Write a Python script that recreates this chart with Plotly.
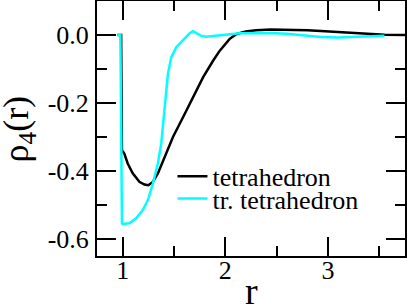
import plotly.graph_objects as go

# tetrahedron curve
r_tet = [0.95, 0.985, 0.993, 1.016, 1.049, 1.098, 1.163, 1.212, 1.25, 1.294, 1.343, 1.408,
         1.49, 1.588, 1.686, 1.784, 1.882, 1.946, 2.04, 2.11, 2.2, 2.3, 2.44, 2.6, 2.8,
         2.93, 3.1, 3.25, 3.4, 3.55, 3.75]
rho_tet = [0.0, 0.0, -0.339, -0.349, -0.378, -0.407, -0.432, -0.440, -0.442, -0.432, -0.407,
           -0.359, -0.300, -0.242, -0.183, -0.124, -0.075, -0.046, -0.012, 0.003, 0.010,
           0.014, 0.016, 0.016, 0.014, 0.012, 0.009, 0.006, 0.003, 0.001, 0.0]

# truncated tetrahedron curve
r_tr = [0.95, 0.978, 0.993, 1.0, 1.066, 1.131, 1.196, 1.245, 1.294, 1.343, 1.376, 1.408,
        1.441, 1.473, 1.522, 1.588, 1.653, 1.685, 1.72, 1.76, 1.815, 1.9, 2.0, 2.14, 2.3,
        2.44, 2.6, 2.75, 2.93, 3.1, 3.25, 3.4, 3.55]
rho_tr = [0.0, 0.0, -0.554, -0.556, -0.554, -0.539, -0.515, -0.486, -0.437, -0.378, -0.319,
          -0.222, -0.114, -0.066, -0.036, -0.015, 0.005, 0.011, 0.006, -0.002, -0.005,
          -0.003, 0.001, 0.005, 0.006, 0.006, 0.004, 0.0, -0.006, -0.007, -0.005, -0.003,
          -0.002]

series_names = ["tetrahedron", "tr. tetrahedron"]
x_title = "r"
y_title = "ρ<sub>4</sub>(r)"

x_ticks = [1, 2, 3]
x_minor = [1.5, 2.5, 3.5]
y_ticks = [-0.6, -0.4, -0.2, 0.0]
y_ticktext = ["-0.6", "-0.4", "-0.2", "0.0"]
y_minor = [-0.5, -0.3, -0.1]

FONT = "Liberation Serif"

fig = go.Figure()
fig.add_trace(go.Scatter(x=r_tet, y=rho_tet, mode="lines", name=series_names[0],
                         line=dict(color="black", width=2.5), legend="legend"))
fig.add_trace(go.Scatter(x=r_tr, y=rho_tr, mode="lines", name=series_names[1],
                         line=dict(color="#00ffff", width=2.5), legend="legend2"))

axis_common = dict(
    showline=True, linewidth=2, linecolor="black", mirror="ticks",
    ticks="inside", ticklen=19, tickwidth=2, tickcolor="black",
    showgrid=False, zeroline=False, automargin=False,
    tickfont=dict(family=FONT, size=26, color="black"),
)

fig.update_layout(
    width=407, height=306,
    margin=dict(l=97, r=2, t=1, b=50),
    paper_bgcolor="white", plot_bgcolor="white",
    font=dict(family=FONT, color="black"),
    xaxis=dict(range=[0.75, 3.75], tickmode="array", tickvals=x_ticks,
               minor=dict(tickmode="array", tickvals=x_minor, ticks="inside", ticklen=10,
                          tickwidth=2, tickcolor="black", showgrid=False),
               ticklabelstandoff=-10,
               **axis_common),
    yaxis=dict(range=[-0.65, 0.1], tickmode="array", tickvals=y_ticks, ticktext=y_ticktext,
               minor=dict(tickmode="array", tickvals=y_minor, ticks="inside", ticklen=10,
                          tickwidth=2, tickcolor="black", showgrid=False),
               ticklabelstandoff=1,
               **axis_common),
    legend=dict(x=0.245, y=0.312, xanchor="left", yanchor="middle",
                bgcolor="rgba(0,0,0,0)", font=dict(family=FONT, size=26, color="black"),
                borderwidth=0),
    legend2=dict(x=0.245, y=0.225, xanchor="left", yanchor="middle",
                 bgcolor="rgba(0,0,0,0)", font=dict(family=FONT, size=26, color="black"),
                 borderwidth=0),
    showlegend=True,
    annotations=[
        dict(text=x_title, xref="paper", yref="paper", x=0.5, y=-0.227,
             xanchor="center", yanchor="bottom", showarrow=False,
             font=dict(family=FONT, size=38, color="black")),
        dict(text=y_title, xref="paper", yref="paper", x=-0.2535, y=0.5,
             xanchor="center", yanchor="middle", textangle=-90, showarrow=False,
             font=dict(family=FONT, size=36, color="black")),
    ],
)

fig.write_html("out.html", config={"displayModeBar": False},
               post_script="document.body.style.margin='0';")
